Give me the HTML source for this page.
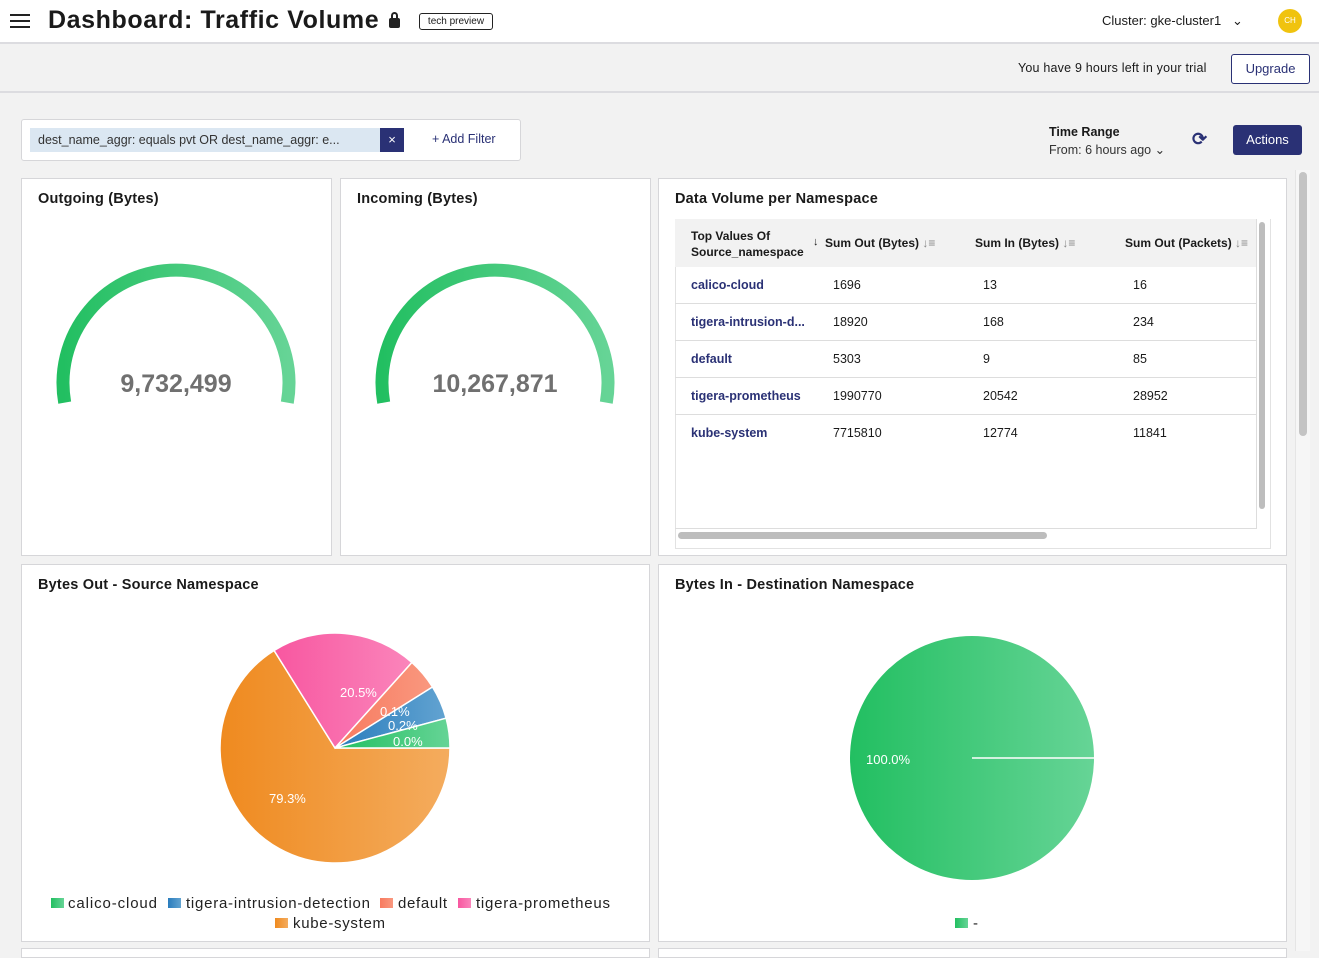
<!DOCTYPE html>
<html><head><meta charset="utf-8"><style>
*{box-sizing:border-box;margin:0;padding:0}
body{width:1319px;height:951px;overflow:hidden;background:#f2f2f2;font-family:"Liberation Sans",sans-serif;color:#1a1a1a;position:relative}
.abs{position:absolute}
.card{position:absolute;background:#fff;border:1px solid #d6d6d9}
.title{position:absolute;left:16px;top:12px;font-size:14.5px;font-weight:bold;color:#1a1a1a;letter-spacing:0.2px}
.navy{color:#2a3175}
</style></head><body>
<div class="abs" style="left:0;top:0;width:1319px;height:44px;background:#fff;border-bottom:2px solid #dcdce0"></div>
<div class="abs" style="left:10px;top:14px;width:20px;height:2px;background:#222;box-shadow:0 6px 0 #222,0 12px 0 #222"></div>
<div class="abs" style="left:48px;top:6px;font-size:25px;font-weight:bold;color:#1a1a1a;letter-spacing:0.6px">Dashboard: Traffic Volume</div>
<div class="abs" style="left:389px;top:18px;width:11px;height:10px;background:#222;border-radius:2px"></div>
<div class="abs" style="left:391px;top:12px;width:7px;height:9px;border:2px solid #222;border-bottom:none;border-radius:4px 4px 0 0"></div>
<div class="abs" style="left:419px;top:13px;width:74px;height:17px;border:1px solid #222;border-radius:3px;font-size:10px;text-align:center;line-height:15px">tech preview</div>
<div class="abs" style="left:1102px;top:13px;font-size:13px">Cluster: gke-cluster1 &nbsp;&nbsp;⌄</div>
<div class="abs" style="left:1278px;top:9px;width:24px;height:24px;border-radius:50%;background:#f0c30f;color:#fff;font-size:8px;text-align:center;line-height:24px">CH</div>
<div class="abs" style="left:0;top:46px;width:1319px;height:47px;border-bottom:2px solid #dcdce0"></div>
<div class="abs" style="left:1018px;top:61px;font-size:12.5px;letter-spacing:0.2px">You have 9 hours left in your trial</div>
<div class="abs navy" style="left:1231px;top:54px;width:79px;height:30px;background:#fff;border:1px solid #2a3175;border-radius:3px;font-size:13px;text-align:center;line-height:28px">Upgrade</div>
<div class="abs" style="left:21px;top:119px;width:500px;height:42px;background:#fff;border:1px solid #d6d6d9;border-radius:3px"></div>
<div class="abs" style="left:30px;top:128px;width:350px;height:24px;background:#dbe7f2;font-size:12.5px;line-height:24px;padding-left:8px;color:#333">dest_name_aggr: equals pvt OR dest_name_aggr: e...</div>
<div class="abs" style="left:380px;top:128px;width:24px;height:24px;background:#2a3175;color:#fff;font-size:13px;text-align:center;line-height:24px">×</div>
<div class="abs navy" style="left:432px;top:132px;font-size:12.5px">+ Add Filter</div>
<div class="abs" style="left:1049px;top:125px;font-size:12.5px;font-weight:bold">Time Range</div>
<div class="abs" style="left:1049px;top:142px;font-size:12.5px;color:#333">From: 6 hours ago ⌄</div>
<div class="abs navy" style="left:1192px;top:129px;font-size:18px;font-weight:bold">⟳</div>
<div class="abs" style="left:1233px;top:125px;width:69px;height:30px;background:#2a3175;border-radius:3px;color:#fff;font-size:13px;text-align:center;line-height:30px">Actions</div>
<div class="abs" style="left:1295px;top:170px;width:15px;height:781px;background:#f6f6f6;border-left:1px solid #e5e5e5"></div>
<div class="abs" style="left:1299px;top:172px;width:8px;height:264px;background:#c4c4c4;border-radius:4px"></div>

<div class="card" style="left:21px;top:178px;width:311px;height:378px"><div class="title">Outgoing (Bytes)</div></div>
<div class="card" style="left:340px;top:178px;width:311px;height:378px"><div class="title">Incoming (Bytes)</div></div>
<svg class="abs" style="left:0;top:0" width="660" height="560">
<defs><linearGradient id="g" x1="0" x2="1" y1="0" y2="0"><stop offset="0" stop-color="#22bf61"/><stop offset="1" stop-color="#66d496"/></linearGradient></defs>
<path d="M64.7 402.6 A113 113 0 1 1 287.3 402.6" fill="none" stroke="url(#g)" stroke-width="13"/>
<path d="M383.7 402.6 A113 113 0 1 1 606.3 402.6" fill="none" stroke="url(#g)" stroke-width="13"/>
<text x="176" y="392" text-anchor="middle" font-family="Liberation Sans" font-weight="bold" font-size="25" fill="#707070">9,732,499</text>
<text x="495" y="392" text-anchor="middle" font-family="Liberation Sans" font-weight="bold" font-size="25" fill="#707070">10,267,871</text>
</svg>

<div class="card" style="left:658px;top:178px;width:629px;height:378px"><div class="title">Data Volume per Namespace</div>
<div class="abs" style="left:16px;top:40px;width:596px;height:330px;border:1px solid #e2e2e2;border-top:none"></div>
<div class="abs" style="left:16px;top:40px;width:581px;height:48px;background:#f2f2f2"></div>
<div class="abs" style="left:32px;top:49px;font-size:12px;font-weight:bold;line-height:16px">Top Values Of<br>Source_namespace</div>
<div class="abs" style="left:154px;top:57px;font-size:11px">↓</div>
<div class="abs" style="left:166px;top:57px;font-size:12px;font-weight:bold">Sum Out (Bytes) <span style="color:#888;font-weight:normal">↓≡</span></div>
<div class="abs" style="left:316px;top:57px;font-size:12px;font-weight:bold">Sum In (Bytes) <span style="color:#888;font-weight:normal">↓≡</span></div>
<div class="abs" style="left:466px;top:57px;font-size:12px;font-weight:bold">Sum Out (Packets) <span style="color:#888;font-weight:normal">↓≡</span></div>
<div class="abs" style="left:16px;top:88px;width:581px;font-size:12.5px">
<div style="height:37px;border-bottom:1px solid #ddd;position:relative"><span class="abs navy" style="left:16px;top:11px;font-weight:bold">calico-cloud</span><span class="abs" style="left:158px;top:11px">1696</span><span class="abs" style="left:308px;top:11px">13</span><span class="abs" style="left:458px;top:11px">16</span></div>
<div style="height:37px;border-bottom:1px solid #ddd;position:relative"><span class="abs navy" style="left:16px;top:11px;font-weight:bold">tigera-intrusion-d...</span><span class="abs" style="left:158px;top:11px">18920</span><span class="abs" style="left:308px;top:11px">168</span><span class="abs" style="left:458px;top:11px">234</span></div>
<div style="height:37px;border-bottom:1px solid #ddd;position:relative"><span class="abs navy" style="left:16px;top:11px;font-weight:bold">default</span><span class="abs" style="left:158px;top:11px">5303</span><span class="abs" style="left:308px;top:11px">9</span><span class="abs" style="left:458px;top:11px">85</span></div>
<div style="height:37px;border-bottom:1px solid #ddd;position:relative"><span class="abs navy" style="left:16px;top:11px;font-weight:bold">tigera-prometheus</span><span class="abs" style="left:158px;top:11px">1990770</span><span class="abs" style="left:308px;top:11px">20542</span><span class="abs" style="left:458px;top:11px">28952</span></div>
<div style="height:37px;position:relative"><span class="abs navy" style="left:16px;top:11px;font-weight:bold">kube-system</span><span class="abs" style="left:158px;top:11px">7715810</span><span class="abs" style="left:308px;top:11px">12774</span><span class="abs" style="left:458px;top:11px">11841</span></div>
</div>
<div class="abs" style="left:16px;top:349px;width:581px;height:1px;background:#ddd"></div>
<div class="abs" style="left:597px;top:40px;width:1px;height:310px;background:#ddd"></div>
<div class="abs" style="left:600px;top:43px;width:6px;height:287px;background:#bdbdbd;border-radius:3px"></div>
<div class="abs" style="left:19px;top:353px;width:369px;height:7px;background:#bdbdbd;border-radius:4px"></div>
</div>

<div class="card" style="left:21px;top:564px;width:629px;height:378px"><div class="title">Bytes Out - Source Namespace</div></div>
<div class="card" style="left:658px;top:564px;width:629px;height:378px"><div class="title">Bytes In - Destination Namespace</div></div>
<div class="card" style="left:21px;top:948px;width:629px;height:10px"></div>
<div class="card" style="left:658px;top:948px;width:629px;height:10px"></div>

<svg class="abs" style="left:0;top:560px" width="1319" height="391" viewBox="0 560 1319 391">
<defs>
<linearGradient id="o" x1="0" x2="1"><stop offset="0" stop-color="#ef8a1f"/><stop offset="1" stop-color="#f4ac5e"/></linearGradient>
<linearGradient id="p" x1="0" x2="1"><stop offset="0" stop-color="#f857a0"/><stop offset="1" stop-color="#fa85bb"/></linearGradient>
<linearGradient id="s" x1="0" x2="1"><stop offset="0" stop-color="#f87a5f"/><stop offset="1" stop-color="#f9987f"/></linearGradient>
<linearGradient id="b" x1="0" x2="1"><stop offset="0" stop-color="#2a7dbd"/><stop offset="1" stop-color="#62a3d1"/></linearGradient>
<linearGradient id="gr" x1="0" x2="1"><stop offset="0" stop-color="#22bf61"/><stop offset="1" stop-color="#66d496"/></linearGradient>
</defs>
<g stroke="#fff" stroke-width="1.5">
<path d="M335 748 L274.1 650.5 A115 115 0 1 0 450 748 Z" fill="url(#o)"/>
<path d="M335 748 L411.9 662.5 A115 115 0 0 0 274.1 650.5 Z" fill="url(#p)"/>
<path d="M335 748 L432.5 687 A115 115 0 0 0 411.9 662.5 Z" fill="url(#s)"/>
<path d="M335 748 L446.1 718.2 A115 115 0 0 0 432.5 687 Z" fill="url(#b)"/>
<path d="M335 748 L450 748 A115 115 0 0 0 446.1 718.2 Z" fill="url(#gr)"/>
</g>
<g font-family="Liberation Sans" font-size="13" fill="#fff">
<text x="340" y="697">20.5%</text><text x="380" y="716">0.1%</text><text x="388" y="730">0.2%</text><text x="393" y="746">0.0%</text><text x="269" y="803">79.3%</text>
</g>
<circle cx="972" cy="758" r="122" fill="url(#gr)"/>
<line x1="972" y1="758" x2="1094" y2="758" stroke="#fff" stroke-width="1.5"/>
<text x="866" y="764" font-family="Liberation Sans" font-size="13" fill="#fff">100.0%</text>
<g font-family="Liberation Sans" font-size="15" fill="#222">
<rect x="51" y="898" width="13" height="10" fill="url(#gr)"/><text x="68" y="908" textLength="89">calico-cloud</text>
<rect x="168" y="898" width="13" height="10" fill="url(#b)"/><text x="186" y="908" textLength="184">tigera-intrusion-detection</text>
<rect x="380" y="898" width="13" height="10" fill="url(#s)"/><text x="398" y="908" textLength="49">default</text>
<rect x="458" y="898" width="13" height="10" fill="url(#p)"/><text x="476" y="908" textLength="134">tigera-prometheus</text>
<rect x="275" y="918" width="13" height="10" fill="url(#o)"/><text x="293" y="928" textLength="92">kube-system</text>
<rect x="955" y="918" width="13" height="10" fill="url(#gr)"/><text x="973" y="928">-</text>
</g>
</svg>
</body></html>
